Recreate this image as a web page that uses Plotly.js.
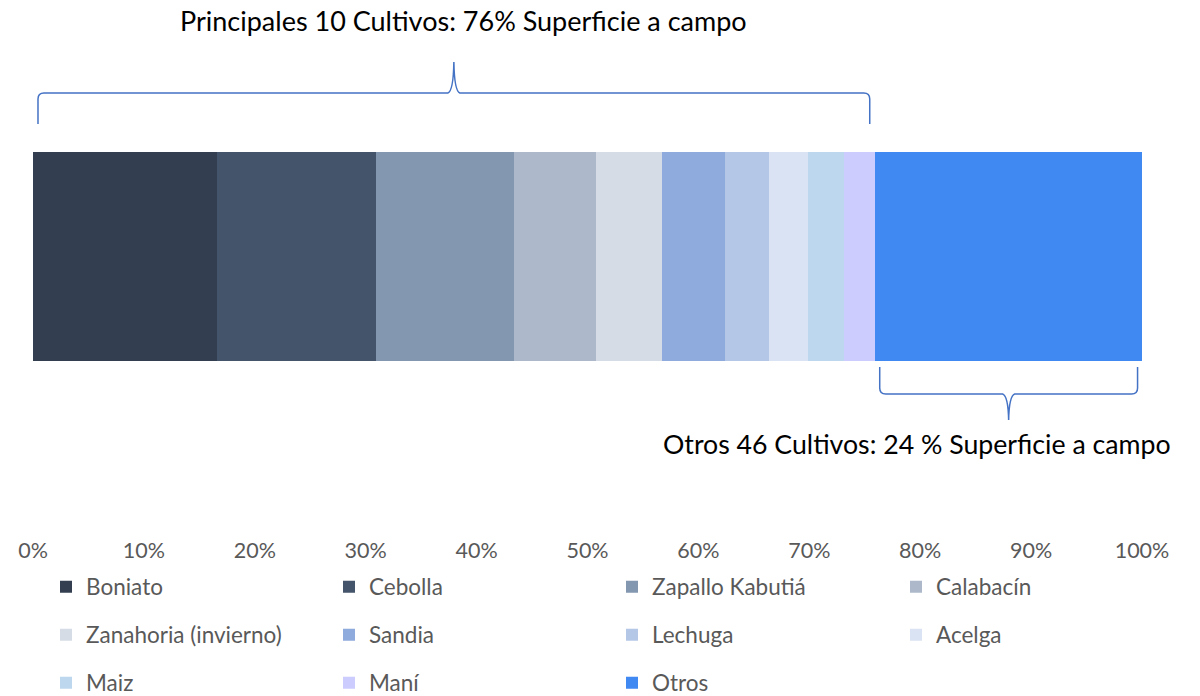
<!DOCTYPE html>
<html><head><meta charset="utf-8">
<script src="https://cdn.plot.ly/plotly-3.0.1.min.js"></script>
<style>html,body{margin:0;padding:0;background:#fff}#chart{width:1200px;height:696px}</style>
</head><body><div id="chart"></div>
<script>
const categories = ['Boniato','Cebolla','Zapallo Kabutiá','Calabacín','Zanahoria (invierno)','Sandia','Lechuga','Acelga','Maiz','Maní','Otros'];
const shares = [16.6,14.3,12.5,7.4,5.9,5.7,4.0,3.5,3.2,2.8,24.1];
const colors = ['#333F50','#44546A','#8497B0','#ADB9CA','#D6DCE5','#8FAADC','#B4C7E7','#DAE3F3','#BDD7EE','#CCCCFF','#4189F2'];
const tickValues = [0,10,20,30,40,50,60,70,80,90,100];
const tickLabels = ['0%','10%','20%','30%','40%','50%','60%','70%','80%','90%','100%'];
const topLabel = 'Principales 10 Cultivos: 76% Superficie a campo';
const bottomLabel = 'Otros 46 Cultivos: 24 % Superficie a campo';

const W = 1200, H = 696, L = 33, R = 58, T = 152, B = 535;
const PW = W - L - R, PH = B - T;
const barPx = 209;
const X = px => (px - L) / PW;
const Y = py => (B - py) / PH;
const xPct = p => L + p / 100 * PW;

// legend grid: 4 columns, rows of 4
const legendColsPx = [71, 354, 637, 921];
const legendRowsPx = [587, 635, 683];
const legendId = i => i === 0 ? 'legend' : 'legend' + (i + 1);

const traces = categories.map((c, i) => ({
  type: 'bar', orientation: 'h', name: c, x: [shares[i]], y: [0],
  marker: {color: colors[i], line: {width: 0}}, legend: legendId(i),
  hoverinfo: 'name+x'
}));

const top10 = shares.slice(0, 10).reduce((a, b) => a + b, 0);

function pt(px, py) { return X(px).toFixed(5) + ',' + Y(py).toFixed(5); }
function braceTop(x0, x1, yBar, yEnd, yTip) {
  const xm = (x0 + x1) / 2, r = 6;
  return 'M' + pt(x0, yEnd) + ' L' + pt(x0, yBar + r) + ' Q' + pt(x0, yBar) + ' ' + pt(x0 + r, yBar) +
    ' L' + pt(xm - 6, yBar) + ' Q' + pt(xm - 0.5, yBar - 2) + ' ' + pt(xm, yTip) +
    ' Q' + pt(xm + 0.5, yBar - 2) + ' ' + pt(xm + 6, yBar) +
    ' L' + pt(x1 - r, yBar) + ' Q' + pt(x1, yBar) + ' ' + pt(x1, yBar + r) + ' L' + pt(x1, yEnd);
}
function braceBottom(x0, x1, yBar, yEnd, yTip) {
  const xm = (x0 + x1) / 2, r = 6;
  return 'M' + pt(x0, yEnd) + ' L' + pt(x0, yBar - r) + ' Q' + pt(x0, yBar) + ' ' + pt(x0 + r, yBar) +
    ' L' + pt(xm - 6, yBar) + ' Q' + pt(xm - 0.5, yBar + 2) + ' ' + pt(xm, yTip) +
    ' Q' + pt(xm + 0.5, yBar + 2) + ' ' + pt(xm + 6, yBar) +
    ' L' + pt(x1 - r, yBar) + ' Q' + pt(x1, yBar) + ' ' + pt(x1, yBar - r) + ' L' + pt(x1, yEnd);
}

const layout = {
  width: W, height: H, margin: {l: L, r: R, t: T, b: H - B, autoexpand: false},
  paper_bgcolor: '#fff', plot_bgcolor: '#fff',
  barmode: 'stack', bargap: 0, showlegend: true,
  font: {family: 'Lato, sans-serif', color: '#595959'},
  xaxis: {range: [0, 100], tickvals: tickValues, ticktext: tickLabels, showgrid: false, zeroline: false,
    showline: false, ticks: '', tickfont: {size: 21.5, color: '#595959', family: 'Lato, sans-serif'}, fixedrange: true},
  yaxis: {range: [0.5 - PH / barPx, 0.5], visible: false, fixedrange: true},
  shapes: [
    {type: 'path', xref: 'paper', yref: 'paper', path: braceTop(xPct(0.45), xPct(top10 - 0.45), 93, 124, 62), line: {color: '#4472C4', width: 1.5}},
    {type: 'path', xref: 'paper', yref: 'paper', path: braceBottom(xPct(top10 + 0.45), xPct(99.6), 394, 367, 420), line: {color: '#4472C4', width: 1.5}}
  ],
  annotations: [
    {xref: 'paper', yref: 'paper', x: X(463), y: Y(20), text: topLabel, showarrow: false, xanchor: 'center', yanchor: 'middle',
      font: {family: 'Lato, sans-serif', size: 27, color: '#000'}},
    {xref: 'paper', yref: 'paper', x: X(917), y: Y(444), text: bottomLabel, showarrow: false, xanchor: 'center', yanchor: 'middle',
      font: {family: 'Lato, sans-serif', size: 26.7, color: '#000'}}
  ]
};

categories.forEach((c, i) => {
  layout[legendId(i)] = {
    orientation: 'h', xanchor: 'left', yanchor: 'middle',
    x: X(legendColsPx[i % 4] - 25), y: Y(legendRowsPx[Math.floor(i / 4)]),
    font: {family: 'Lato, sans-serif', size: 22.5, color: '#595959'},
    itemwidth: 30, bgcolor: 'rgba(0,0,0,0)', borderwidth: 0
  };
});

Plotly.newPlot('chart', traces, layout, {displayModeBar: false, staticPlot: true});
</script></body></html>
